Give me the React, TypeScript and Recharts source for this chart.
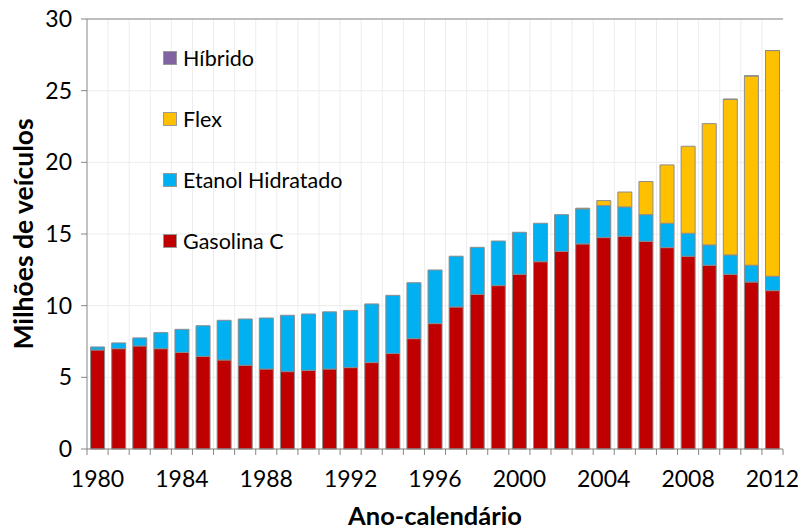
import React from 'react'
import {
  BarChart,
  Bar,
  XAxis,
  YAxis,
  CartesianGrid,
  ReferenceLine,
} from 'recharts'

const years = [
  1980, 1981, 1982, 1983, 1984, 1985, 1986, 1987, 1988, 1989, 1990,
  1991, 1992, 1993, 1994, 1995, 1996, 1997, 1998, 1999, 2000, 2001,
  2002, 2003, 2004, 2005, 2006, 2007, 2008, 2009, 2010, 2011, 2012,
]

const gasolina = [
  6.91, 7.0, 7.19, 7.0, 6.74, 6.46, 6.21, 5.84, 5.58, 5.4, 5.49,
  5.58, 5.68, 6.03, 6.66, 7.7, 8.75, 9.91, 10.79, 11.4, 12.19, 13.07,
  13.78, 14.31, 14.75, 14.84, 14.49, 14.05, 13.45, 12.82, 12.19, 11.65, 11.05,
]

const etanol = [
  0.21, 0.4, 0.56, 1.12, 1.61, 2.14, 2.77, 3.23, 3.56, 3.93, 3.93,
  3.99, 3.99, 4.09, 4.06, 3.9, 3.74, 3.54, 3.28, 3.11, 2.93, 2.68,
  2.57, 2.44, 2.23, 2.05, 1.86, 1.7, 1.6, 1.42, 1.35, 1.17, 1.0,
]

const flex = [
  0, 0, 0, 0, 0, 0, 0, 0, 0, 0, 0,
  0, 0, 0, 0, 0, 0, 0, 0, 0, 0, 0,
  0, 0.05, 0.35, 1.04, 2.31, 4.07, 6.07, 8.46, 10.86, 13.21, 15.75,
]

const hibrido = [
  0, 0, 0, 0, 0, 0, 0, 0, 0, 0, 0,
  0, 0, 0, 0, 0, 0, 0, 0, 0, 0, 0,
  0, 0, 0, 0, 0, 0, 0, 0, 0.001, 0.002, 0.004,
]

const yTicks = [0, 5, 10, 15, 20, 25, 30]

const series = [
  { key: 'gasolina', name: 'Gasolina C', color: '#C00000' },
  { key: 'etanol', name: 'Etanol Hidratado', color: '#00B0F0' },
  { key: 'flex', name: 'Flex', color: '#FFC000' },
  { key: 'hibrido', name: 'Híbrido', color: '#8064A2' },
]

const data = years.map((year, i) => ({
  year,
  gasolina: gasolina[i],
  etanol: etanol[i],
  flex: flex[i],
  hibrido: hibrido[i],
}))

const W = 798
const H = 530
const Y_AXIS_W = 87
const MARGIN = { top: 19, right: 15, left: 0, bottom: 0 }
const PLOT_W = W - Y_AXIS_W - MARGIN.right
const FONT = 'Lato, "Open Sans", sans-serif'
const AXIS_GREY = '#868686'

function XTick(props: any) {
  const { x, y, payload, index } = props
  const step = PLOT_W / years.length
  const showLabel = payload.value % 4 === 0
  return (
    <g>
      <line x1={x - step / 2} x2={x - step / 2} y1={y} y2={y + 6} stroke={AXIS_GREY} />
      {index === years.length - 1 && (
        <line x1={x + step / 2} x2={x + step / 2} y1={y} y2={y + 6} stroke={AXIS_GREY} />
      )}
      {showLabel && (
        <text x={x} y={y + 38} textAnchor="middle" fontSize={23} fill="#000" fontFamily={FONT}>
          {payload.value}
        </text>
      )}
    </g>
  )
}

// legend sits inside the plot, so keep it out of the chart layout
function LegendBox() {
  const items = [...series].reverse()
  return (
    <div style={{ position: 'absolute', left: 163, top: 27, fontFamily: FONT, fontSize: 21.5, color: '#000' }}>
      {items.map(s => (
        <div key={s.key} style={{ display: 'flex', alignItems: 'center', height: 61 }}>
          <span
            style={{
              display: 'inline-block',
              width: 12,
              height: 12,
              background: s.color,
              border: '1px solid #999',
              marginRight: 6,
            }}
          />
          <span>{s.name}</span>
        </div>
      ))}
    </div>
  )
}

export default function App() {
  return (
    <div style={{ position: 'absolute', left: 0, top: 0, width: W, height: H, background: '#fff' }}>
      <BarChart width={W} height={H} data={data} margin={MARGIN} barCategoryGap="17%">
        <CartesianGrid
          stroke="#EDEDED"
          verticalCoordinatesGenerator={({ offset }: any) =>
            years.slice(1).map((_, i) => offset.left + ((i + 1) * offset.width) / years.length)
          }
        />
        <XAxis
          dataKey="year"
          interval={0}
          tickLine={false}
          tickSize={0}
          tickMargin={0}
          height={81}
          stroke={AXIS_GREY}
          tick={<XTick />}
          label={{
            value: 'Ano-calendário',
            position: 'insideBottom',
            offset: 5,
            fontSize: 25.5,
            fontWeight: 700,
            fill: '#000',
            fontFamily: FONT,
          }}
        />
        <YAxis
          width={Y_AXIS_W}
          domain={[0, 30]}
          ticks={yTicks}
          tickSize={6}
          tickMargin={9}
          stroke={AXIS_GREY}
          tick={{ fontSize: 23, fill: '#000', fontFamily: FONT }}
          label={{
            value: 'Milhões de veículos',
            angle: -90,
            position: 'insideLeft',
            offset: 24,
            style: { textAnchor: 'middle', fontSize: 26.5, fontWeight: 700, fill: '#000', fontFamily: FONT },
          }}
        />
        <YAxis
          yAxisId="frame"
          orientation="right"
          width={0}
          domain={[0, 30]}
          tick={false}
          tickLine={false}
          stroke={AXIS_GREY}
        />
        <ReferenceLine y={30} stroke={AXIS_GREY} />
        {series.map(s => (
          <Bar
            key={s.key}
            dataKey={s.key}
            name={s.name}
            stackId="a"
            fill={s.color}
            stroke="#8C8C8C"
            strokeWidth={1}
            isAnimationActive={false}
          />
        ))}
      </BarChart>
      <LegendBox />
    </div>
  )
}
